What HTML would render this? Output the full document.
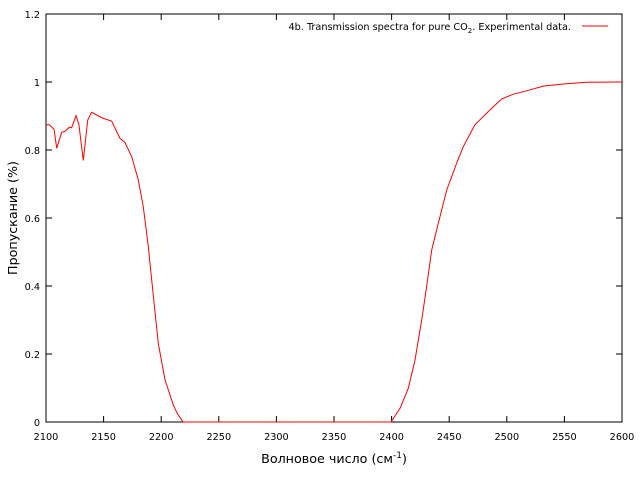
<!DOCTYPE html>
<html><head><meta charset="utf-8"><style>
body{margin:0;background:#fff}
svg{display:block;font-family:"DejaVu Sans","Liberation Sans",sans-serif}
</style></head><body>
<svg id="chart" width="640" height="480">
<rect x="0" y="0" width="640" height="480" fill="#fff"/>
<g id="ticks"></g>
<rect x="46" y="14" width="576" height="408" fill="none" stroke="#000" stroke-width="1"/>
<text x="334" y="463" text-anchor="middle" font-size="12.7">Волновое число (см<tspan dy="-5" font-size="9">-1</tspan><tspan dy="5">)</tspan></text>
<text transform="translate(17,218) rotate(-90)" text-anchor="middle" font-size="12.7">Пропускание (%)</text>
<g>
<text x="571" y="30" text-anchor="end" font-size="9.7">4b. Transmission spectra for pure CO<tspan dy="3" font-size="7">2</tspan><tspan dy="-3">. Experimental data.</tspan></text>
<line x1="582" y1="26" x2="608" y2="26" stroke="#ff0000" stroke-width="1"/>
</g>
<path id="series" fill="none" stroke="#ff0000" stroke-width="1"/>
</svg>
<script>
const wavenumbers=[2100,2102.9,2107,2109.3,2113.6,2116.5,2120.3,2122.3,2126,2128.6,2132.4,2136.2,2139.6,2144,2149.8,2157,2164.2,2168.6,2174.4,2180.1,2184.5,2188.8,2193.2,2197.5,2203.3,2210.5,2214,2219,2300,2399.5,2407.3,2414.5,2420.3,2426.1,2430.4,2434.8,2440.5,2447.8,2456.4,2462.2,2472.3,2485.4,2495.5,2505.6,2517.2,2531.7,2549,2569.3,2600];
const transmission=[0.874,0.874,0.861,0.805,0.852,0.855,0.867,0.866,0.901,0.875,0.769,0.888,0.911,0.903,0.893,0.885,0.834,0.822,0.780,0.712,0.633,0.516,0.369,0.231,0.124,0.05,0.025,0,0,0,0.04,0.099,0.182,0.3,0.398,0.506,0.584,0.682,0.761,0.81,0.874,0.918,0.95,0.964,0.974,0.988,0.994,0.999,1.0];
const xTicks=[2100,2150,2200,2250,2300,2350,2400,2450,2500,2550,2600];
const yTicks=[0,0.2,0.4,0.6,0.8,1,1.2];
const X0=46,X1=622,Y0=422,Y1=14;
function sx(v){return X0+(v-2100)/500*(X1-X0);}
function sy(v){return Y0-(v/1.2)*(Y0-Y1);}
const NS="http://www.w3.org/2000/svg";
const g=document.getElementById('ticks');
xTicks.forEach(t=>{
  const x=sx(t);
  const l=document.createElementNS(NS,'path');
  l.setAttribute('d',`M${x},${Y0}v-6M${x},${Y1}v6`);
  l.setAttribute('stroke','#000');
  
  
  g.appendChild(l);
  const tx=document.createElementNS(NS,'text');
  tx.setAttribute('x',x);tx.setAttribute('y',440);
  tx.setAttribute('text-anchor','middle');tx.setAttribute('font-size','9.7');
  tx.textContent=t;
  
  
  g.appendChild(tx);
});
yTicks.forEach(t=>{
  const y=sy(t);
  const l=document.createElementNS(NS,'path');
  l.setAttribute('d',`M${X0},${y}h6M${X1},${y}h-6`);
  l.setAttribute('stroke','#000');
  
  
  g.appendChild(l);
  const tx=document.createElementNS(NS,'text');
  tx.setAttribute('x',40);tx.setAttribute('y',y+4);
  tx.setAttribute('text-anchor','end');tx.setAttribute('font-size','9.7');
  tx.textContent=t;
  
  
  g.appendChild(tx);
});
document.getElementById('series').setAttribute('d',
  wavenumbers.map((w,i)=>(i?'L':'M')+sx(w).toFixed(1)+','+sy(transmission[i]).toFixed(1)).join(''));
</script>
</body></html>
